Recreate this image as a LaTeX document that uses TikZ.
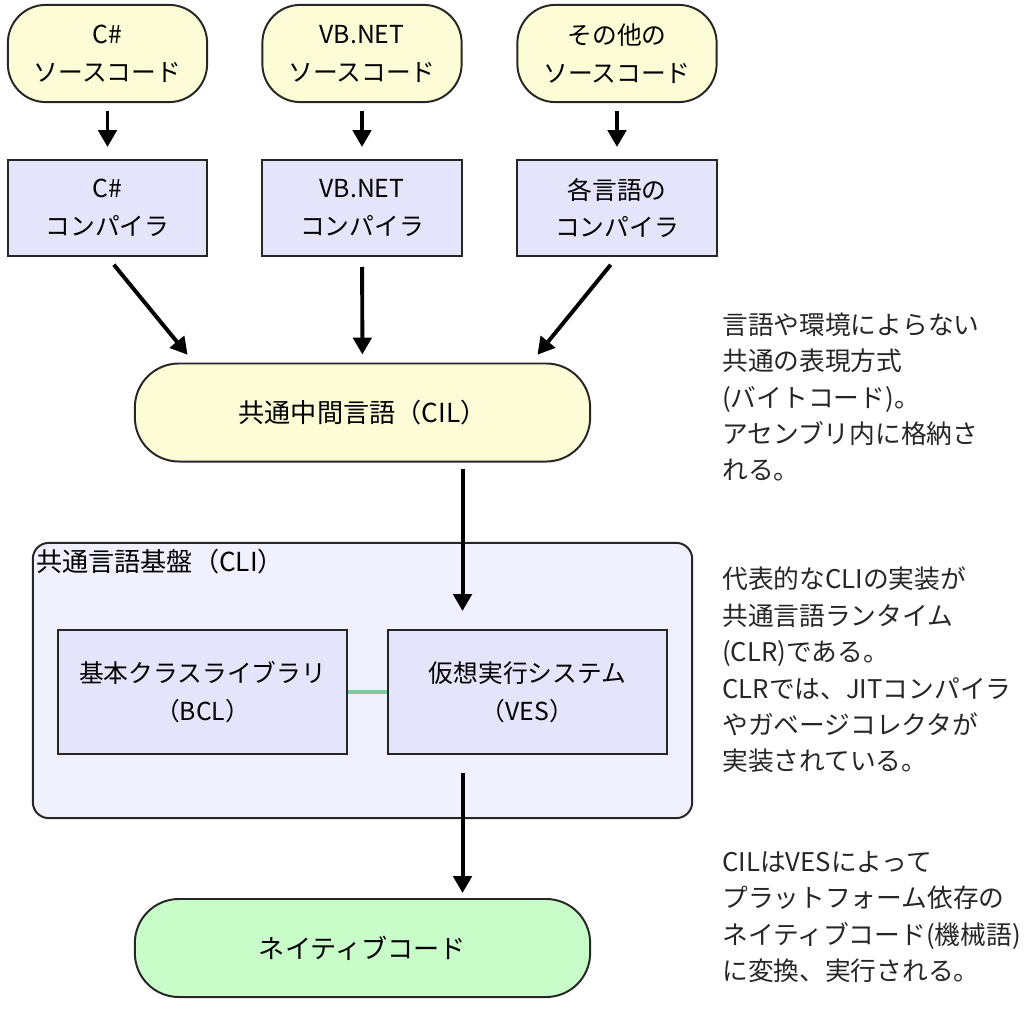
\documentclass[tikz,border=0pt]{standalone}
\usepackage{fontspec}
\setmainfont{Noto Sans CJK JP}
\usetikzlibrary{arrows.meta,positioning,calc}
\definecolor{srcyellow}{RGB}{252,252,214}
\definecolor{compblue}{RGB}{228,228,250}
\definecolor{cliback}{RGB}{240,240,254}
\definecolor{nativegreen}{RGB}{200,252,200}
\definecolor{linkgreen}{RGB}{128,200,158}
\newcommand{\boxtxt}{\fontsize{17.6}{27}\selectfont}
\newcommand{\bigboxtxt}{\fontsize{18.6}{27}\selectfont}
\newcommand{\notetxt}{\fontsize{18.3}{25.9}\selectfont}
\tikzset{
  srcbox/.style={draw=black!85, line width=1.4pt, fill=srcyellow, rounded corners=0.95cm,
    minimum width=4.98cm, minimum height=2.43cm, align=center, font=\boxtxt},
  compbox/.style={draw=black!85, line width=1.4pt, fill=compblue,
    minimum width=4.98cm, minimum height=2.4cm, align=center, font=\boxtxt},
  wideround/.style={draw=black!85, line width=1.4pt, rounded corners=1.1cm,
    minimum width=11.38cm, minimum height=2.45cm, align=center, font=\bigboxtxt},
  note/.style={anchor=west, align=left, inner sep=0pt, font=\notetxt, text=black!85},
  arr/.style={line width=2.8pt, -{Triangle[width=13pt,length=12pt]}},
}
\begin{document}
\begin{tikzpicture}[x=0.025cm,y=-0.025cm]
  \useasboundingbox (0,0) rectangle (1024,1024);
  % source code
  \node[srcbox] (src1) at (107.5,53.5) {C\#\\ソースコード};
  \node[srcbox] (src2) at (362,53.5) {VB.NET\\ソースコード};
  \node[srcbox] (src3) at (617,53.5) {その他の\\ソースコード};
  % compilers
  \node[compbox] (comp1) at (107.5,208) {C\#\\コンパイラ};
  \node[compbox] (comp2) at (362,208) {VB.NET\\コンパイラ};
  \node[compbox] (comp3) at (617,208) {各言語の\\コンパイラ};
  % CIL
  \node[wideround, fill=srcyellow] (cil) at (362.5,412.5) {共通中間言語（CIL）};
  % CLI
  \node[draw=black!85, line width=1.4pt, fill=cliback, rounded corners=0.4cm,
    minimum width=16.48cm, minimum height=6.88cm] (cli) at (362.5,680.5) {};
  \node[anchor=west, inner sep=0pt, font=\bigboxtxt] (clititle) at ([xshift=0.1cm,yshift=-0.5cm]cli.north west) {共通言語基盤（CLI）};
  \node[compbox, minimum width=7.22cm, minimum height=3.1cm] (bcl) at (202.5,692) {基本クラスライブラリ\\（BCL）};
  \node[compbox, minimum width=6.98cm, minimum height=3.1cm] (ves) at (527.5,692) {仮想実行システム\\（VES）};
  % native code
  \node[wideround, fill=nativegreen] (native) at (362.5,948) {ネイティブコード};

  \draw[arr, shorten <=0.2cm, shorten >=0.3cm] (src1) -- (comp1);
  \draw[arr, shorten <=0.2cm, shorten >=0.3cm] (src2) -- (comp2);
  \draw[arr, shorten <=0.2cm, shorten >=0.3cm] (src3) -- (comp3);
  \draw[arr, shorten <=0.25cm, shorten >=0.25cm] (comp1.south) -- ([xshift=1.5cm]cil.north west);
  \draw[arr, shorten <=0.25cm, shorten >=0.2cm] (comp2) -- (cil);
  \draw[arr, shorten <=0.25cm, shorten >=0.25cm] (comp3.south) -- ([xshift=-1.5cm]cil.north east);
  \draw[arr, shorten <=0.15cm, shorten >=0.45cm] ([xshift=2.5cm]cil.south) -- ([xshift=2.5cm]cil.south |- ves.north);
  \draw[arr, shorten <=0.45cm, shorten >=0.125cm] ([xshift=2.5cm]native.north |- ves.south) -- ([xshift=2.5cm]native.north);
  \draw[linkgreen, line width=2.2pt] (bcl) -- (ves);

  % notes
  \node[note] (note1) at (722,397) {言語や環境によらない\\共通の表現方式\\(バイトコード)。\\アセンブリ内に格納さ\\れる。};
  \node[note] (note2) at (722,670) {代表的なCLIの実装が\\共通言語ランタイム\\(CLR)である。\\CLRでは、JITコンパイラ\\やガベージコレクタが\\実装されている。};
  \node[note] (note3) at (722,917) {CILはVESによって\\プラットフォーム依存の\\ネイティブコード(機械語)\\に変換、実行される。};
\end{tikzpicture}
\end{document}
